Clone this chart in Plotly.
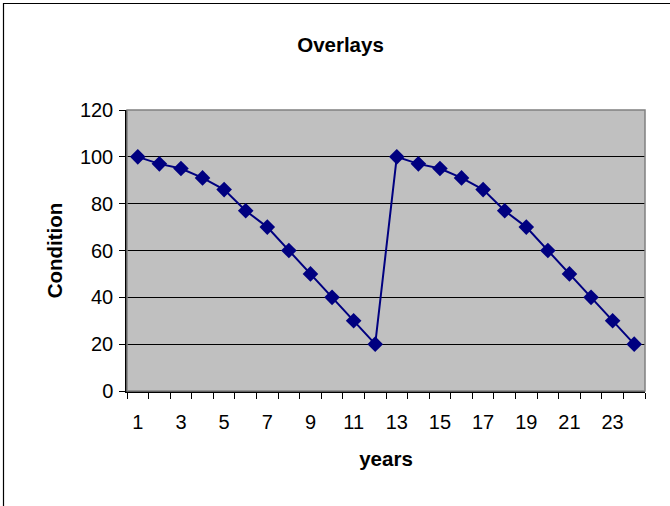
import plotly.graph_objects as go

years = list(range(1, 25))
condition = [100, 97, 95, 91, 86, 77, 70, 60, 50, 40, 30, 20,
             100, 97, 95, 91, 86, 77, 70, 60, 50, 40, 30, 20]
x_tick_labels = [str(v) for v in range(1, 24, 2)]
y_ticks = [0, 20, 40, 60, 80, 100, 120]

W, H = 670, 506
L, R, T, B = 127, 25, 110, 115
pw, ph = W - L - R, H - T - B

def px2paper_x(px):
    return (px - L) / pw

def py2paper_y(py):
    return (H - B - py) / ph

fig = go.Figure()
fig.add_trace(go.Scatter(
    x=years, y=condition, mode="lines+markers",
    line=dict(color="#000080", width=2),
    marker=dict(symbol="diamond", size=12, color="#000080"),
    showlegend=False,
))

font = dict(family="Liberation Sans, Arial, sans-serif", color="black")
TICK = 20
TTL = 20.5

fig.update_layout(
    width=W, height=H,
    margin=dict(l=L, r=R, t=T, b=B),
    paper_bgcolor="white",
    plot_bgcolor="#C0C0C0",
    font=dict(family="Liberation Sans, Arial, sans-serif", size=TICK, color="black"),
    title=dict(text="<b>Overlays</b>", x=px2paper_x(340.5), xanchor="center",
               xref="paper", y=1 - 45 / H, yanchor="middle",
               font=dict(size=TTL, **font)),
    xaxis=dict(
        range=[0.5, 24.5],
        tickmode="array",
        tickvals=list(range(1, 24, 2)),
        ticktext=x_tick_labels,
        ticks="", ticklen=0,
        ticklabelstandoff=12,
        showgrid=False, zeroline=False,
        showline=True, linecolor="black", linewidth=1.5,
        tickfont=dict(size=TICK, **font),
        minor=dict(tickmode="array", tickvals=[i + 0.5 for i in range(0, 25)],
                   ticks="outside", ticklen=6, tickcolor="black", tickwidth=1,
                   showgrid=False),
        title=dict(text="<b>years</b>", font=dict(size=TTL, **font), standoff=20),
        fixedrange=True,
    ),
    yaxis=dict(
        range=[0, 120],
        tickmode="array", tickvals=y_ticks,
        ticks="outside", ticklen=6, tickcolor="black",
        ticklabelstandoff=2,
        showgrid=True, gridcolor="black", gridwidth=1,
        zeroline=False,
        showline=True, linecolor="black", linewidth=1.5,
        tickfont=dict(size=TICK, **font),
        title=dict(text="<b>Condition</b>", font=dict(size=TTL, **font), standoff=12),
        fixedrange=True,
    ),
)

# plot area border (gray)
fig.add_shape(type="rect", xref="paper", yref="paper", x0=0, y0=0, x1=1, y1=1,
              line=dict(color="#808080", width=1.5), layer="above")
# outer chart border
fig.add_shape(type="rect", xref="paper", yref="paper",
              x0=px2paper_x(3.5), y0=py2paper_y(3.5),
              x1=px2paper_x(700), y1=py2paper_y(540),
              line=dict(color="black", width=1.2), layer="below")

fig.write_html("out.html",
               config={"displayModeBar": False},
               post_script="document.body.style.margin='0';document.body.style.overflow='hidden';")
